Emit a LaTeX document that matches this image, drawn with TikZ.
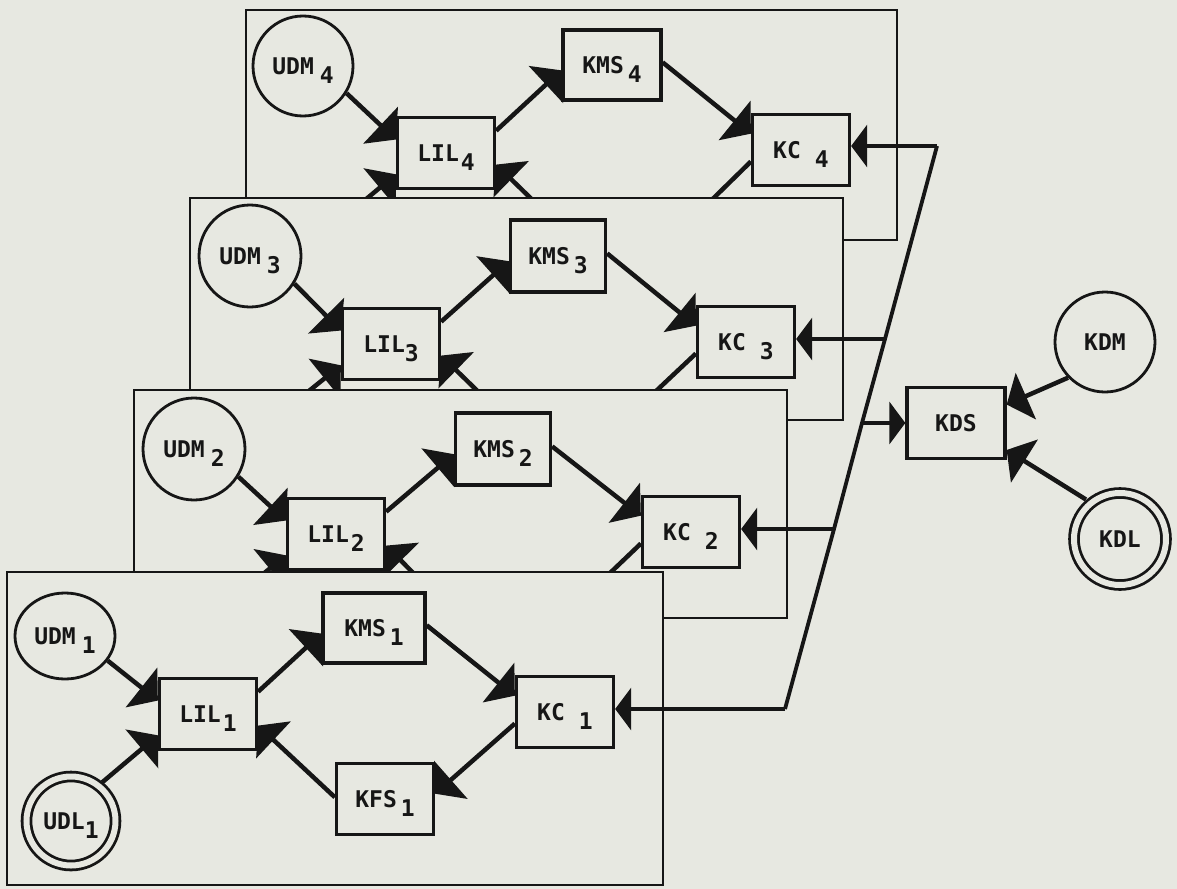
\documentclass[tikz,border=0pt]{standalone}
\usepackage{fontspec}
\newfontfamily\plotfont{DejaVu Sans Mono}
\usetikzlibrary{arrows.meta,shapes.geometric}
\definecolor{bg}{RGB}{231,232,225}
\definecolor{ink}{RGB}{22,22,22}
\newcommand\lsub[1]{\raisebox{-9bp}[0pt][0pt]{#1}}
\begin{document}
\begin{tikzpicture}[x=1bp,y=-1bp,
  every node/.style={font=\plotfont\bfseries\fontsize{23bp}{23bp}\selectfont, text=ink},
  panel/.style={draw=ink, fill=bg, line width=1.8bp},
  blk/.style={draw=ink, fill=bg, line width=3.3bp, rectangle, minimum width=97bp, minimum height=71bp, inner sep=0pt},
  circ/.style={draw=ink, fill=bg, line width=2.8bp, ellipse, inner sep=0pt, minimum width=#1, minimum height=#1},
  dcirc/.style={draw=ink, fill=bg, line width=2.8bp, double=bg, double distance=6bp, circle, minimum size=92bp, inner sep=0pt},
  conn/.style={draw=ink, line width=4.5bp, -{Triangle[length=21bp,width=50bp]}},
  ext/.style={draw=ink, line width=3.8bp, -{Triangle[length=16bp,width=42bp]}},
  wire/.style={draw=ink, line width=3.8bp}]
\useasboundingbox[fill=bg] (0,0) rectangle (1177,889);

% ---------- panel 4 ----------
\draw[panel] (246,10) rectangle (897,240);
\node[circ=100bp] (udm4) at (303,66) {UDM\kern6bp\lsub{4}};
\node[blk] (lil4) at (446,153) {LIL\kern2bp\lsub{4}};
\node[blk, minimum width=98bp, minimum height=70bp] (kms4) at (612,65) {KMS\kern4bp\lsub{4}};
\node[blk] (kc4) at (801,150) {KC\kern14bp\lsub{4}};
\node[blk] (kfs4) at (624,242) {KFS\kern4bp\lsub{4}};
\node[dcirc] (udl4) at (310,259) {UDL\lsub{4}};
\draw[conn] (udm4.-32) -- (lil4.165);
\draw[conn] (udl4.52) -- (lil4.-157);
\draw[conn] (lil4.24) -- (kms4.186);
\draw[conn] (kms4.3) -- (kc4.162);
\draw[conn] (kc4.-167) -- (kfs4.6);
\draw[conn] (kfs4.178) -- (lil4.-13);

% ---------- panel 3 ----------
\draw[panel] (190,198) rectangle (843,420);
\node[circ=102bp] (udm3) at (250,256) {UDM\kern6bp\lsub{3}};
\node[blk] (lil3) at (391,344) {LIL\lsub{3}};
\node[blk, minimum width=95bp, minimum height=72bp] (kms3) at (558,256) {KMS\kern4bp\lsub{3}};
\node[blk] (kc3) at (746,342) {KC\kern14bp\lsub{3}};
\node[blk] (kfs3) at (568,432) {KFS\kern4bp\lsub{3}};
\node[dcirc] (udl3) at (254,449) {UDL\lsub{3}};
\draw[conn] (udm3.-32) -- (lil3.165);
\draw[conn] (udl3.52) -- (lil3.-157);
\draw[conn] (lil3.24) -- (kms3.186);
\draw[conn] (kms3.3) -- (kc3.162);
\draw[conn] (kc3.-167) -- (kfs3.6);
\draw[conn] (kfs3.178) -- (lil3.-13);

% ---------- panel 2 ----------
\draw[panel] (134,390) rectangle (787,618);
\node[circ=102bp] (udm2) at (194,449) {UDM\kern6bp\lsub{2}};
\node[blk] (lil2) at (336,534) {LIL\kern2bp\lsub{2}};
\node[blk, minimum width=95bp, minimum height=72bp] (kms2) at (503,449) {KMS\kern4bp\lsub{2}};
\node[blk] (kc2) at (691,532) {KC\kern14bp\lsub{2}};
\node[blk] (kfs2) at (512,624) {KFS\kern4bp\lsub{2}};
\node[dcirc] (udl2) at (198,641) {UDL\lsub{2}};
\draw[conn] (udm2.-32) -- (lil2.165);
\draw[conn] (udl2.52) -- (lil2.-157);
\draw[conn] (lil2.24) -- (kms2.186);
\draw[conn] (kms2.3) -- (kc2.162);
\draw[conn] (kc2.-167) -- (kfs2.6);
\draw[conn] (kfs2.178) -- (lil2.-13);

% ---------- panel 1 ----------
\draw[panel] (7,572) rectangle (663,885);
\node[circ=100bp, minimum height=86bp] (udm1) at (65,636) {UDM\kern6bp\lsub{1}};
\node[blk] (lil1) at (208,714) {LIL\kern2bp\lsub{1}};
\node[blk, minimum width=102bp, minimum height=70bp] (kms1) at (374,628) {KMS\kern4bp\lsub{1}};
\node[blk] (kc1) at (565,712) {KC\kern14bp\lsub{1}};
\node[blk] (kfs1) at (385,799) {KFS\kern4bp\lsub{1}};
\node[dcirc, minimum size=89bp] (udl1) at (71,821) {UDL\lsub{1}};
\draw[conn] (udm1.-30) -- (lil1.165);
\draw[conn, shorten <=4bp] (udl1.52) -- (lil1.-157);
\draw[conn] (lil1.24) -- (kms1.186);
\draw[conn] (kms1.3) -- (kc1.162);
\draw[conn] (kc1.-167) -- (kfs1.6);
\draw[conn] (kfs1.178) -- (lil1.-13);

% ---------- KDS group ----------
\node[blk, minimum width=98bp] (kds) at (956,423) {KDS};
\node[circ=100bp] (kdm) at (1105,342) {KDM};
\node[dcirc] (kdl) at (1120,539) {KDL};
\draw[conn] (kdm.-136) -- (kds.20);
\draw[conn, shorten <=5bp] (kdl.129) -- (kds.-28);

% ---------- distribution line ----------
\coordinate (sT) at (937,146);
\coordinate (s3) at (885,339);
\coordinate (sd) at (862,423);
\coordinate (s2) at (834,529);
\coordinate (sB) at (785,709);
\draw[wire] (sT) -- (s3) -- (sd) -- (s2) -- (sB);
\draw[ext] (sT) -- (sT -| kc4.east);
\draw[ext] (s3) -- (s3 -| kc3.east);
\draw[ext] (s2) -- (s2 -| kc2.east);
\draw[ext] (sB) -- (sB -| kc1.east);
\draw[ext] (sd) -- (sd -| kds.west);
\end{tikzpicture}
\end{document}
